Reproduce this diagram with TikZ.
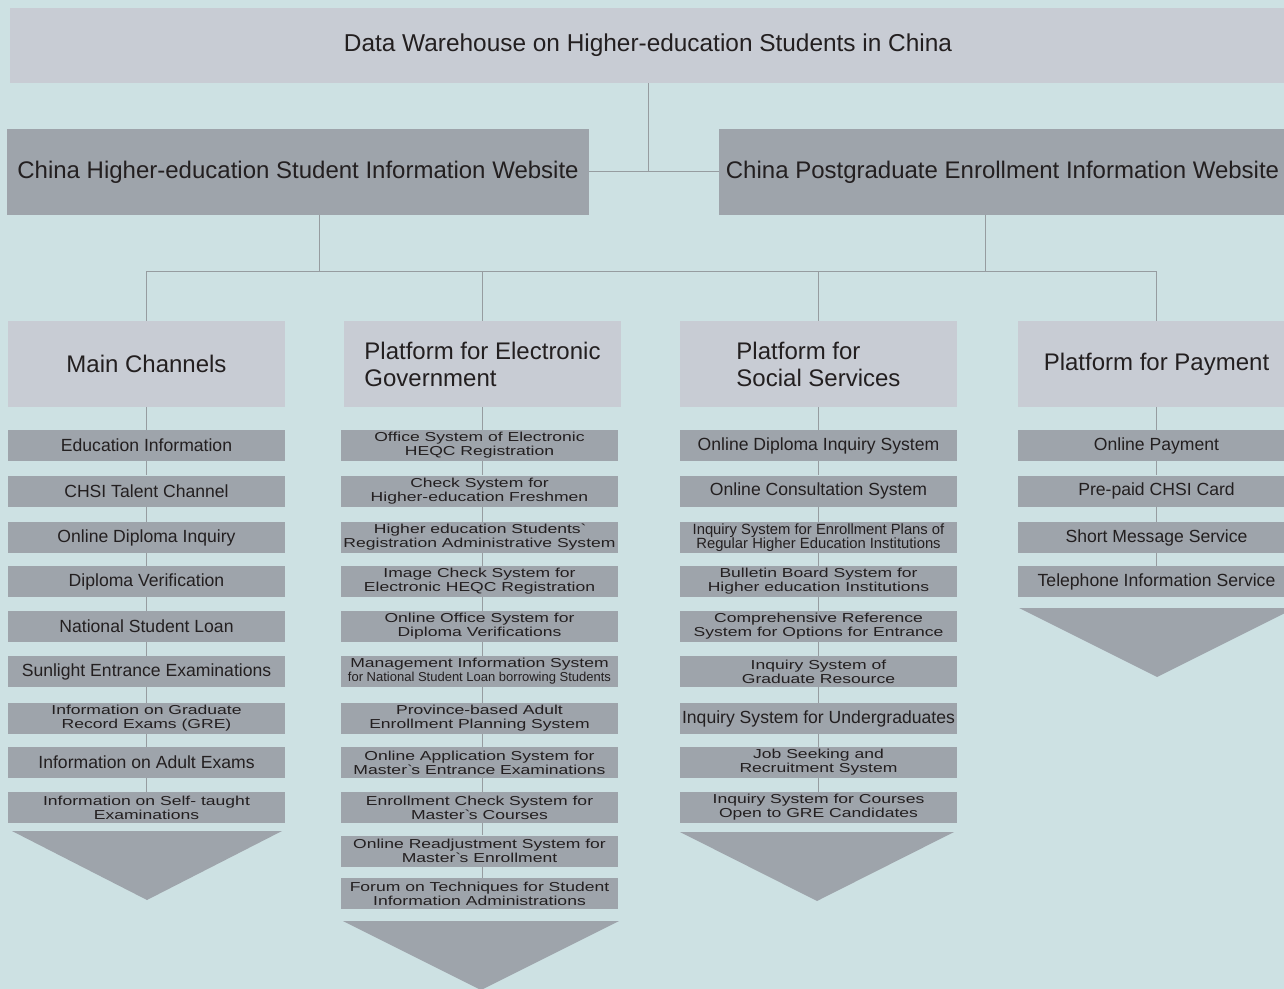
\documentclass[tikz,border=0pt]{standalone}
\usepackage{fontspec}
\setmainfont{Liberation Sans}
\newfontfamily\widefont[FakeStretch=1.35]{Liberation Sans}
\usetikzlibrary{calc}
\definecolor{sky}{RGB}{205,225,227}
\definecolor{pale}{RGB}{200,204,212}
\definecolor{slate}{RGB}{158,164,171}
\definecolor{wire}{RGB}{150,156,160}
\definecolor{ink}{RGB}{35,31,32}
\def\bigtip(#1,#2,#3){\fill[slate] (#1-#3,#2) -- (#1+#3,#2) -- (#1,#2+69) -- cycle;}
\def\smallline{\fontsize{6.5}{7}\selectfont}

\begin{document}
\begin{tikzpicture}[x=0.5pt, y=-0.5pt,
	dwbox/.style={fill=pale, inner sep=0pt, minimum width=638pt, minimum height=37.5pt, text=ink, font=\fontsize{12.2}{13.5}\selectfont},
	sitebox/.style={fill=slate, inner sep=0pt, minimum height=43pt, text=ink, font=\fontsize{12}{13.5}\selectfont},
	headbox/.style={fill=pale, inner sep=0pt, minimum width=138.5pt, minimum height=43pt, text=ink, font=\fontsize{12}{13.5}\selectfont},
	leaf/.style={fill=slate, inner sep=0pt, minimum width=138.5pt, minimum height=15.5pt, text=ink, font=\fontsize{8.8}{10}\selectfont},
	leaftwo/.style={leaf, align=center, font=\widefont\fontsize{6.5}{7}\selectfont},
	leafnarrow/.style={leaf, align=center, font=\fontsize{7.4}{7}\selectfont},
	link/.style={draw=wire, line width=0.5pt}]
	%%%%% START %%%%%
	\useasboundingbox (0,0) rectangle (1284,989);
	\fill[sky] (0,0) rectangle (1284,989);
	
	% top levels
	\node[dwbox] (dw) at (648,45.5) {Data Warehouse on Higher-education Students in China};
	\node[sitebox, minimum width=291pt] (chsi) at (298,172) {China Higher-education Student Information Website};
	\node[sitebox, minimum width=283.5pt] (cpe) at (1002.5,172) {China Postgraduate Enrollment Information Website};
	\draw[link] (chsi.east) -- (cpe.west);
	\draw[link] (dw.south) -- (dw.south |- chsi.east);
	
	% column heads
	\node[headbox] (h1) at (146.5,364) {Main Channels};
	\node[headbox, align=left] (h2) at (482.5,364) {Platform for Electronic\\Government};
	\node[headbox, align=left] (h3) at (818.5,364) {Platform for\\Social Services};
	\node[headbox] (h4) at (1156.5,364) {Platform for Payment};
	
	\coordinate (bus) at (0,272);
	\coordinate (lj) at (319,215);
	\coordinate (rj) at (985,215);
	\draw[link] (lj) -- (lj |- bus);
	\draw[link] (rj) -- (rj |- bus);
	\draw[link] (h1.north) -- (h1.north |- bus) -- (h4.north |- bus) -- (h4.north);
	\draw[link] (h2.north) -- (h2.north |- bus);
	\draw[link] (h3.north) -- (h3.north |- bus);
	
	% main channels
	\node[leaf] (a1) at (146.5,445.5) {Education Information};
	\node[leaf] (a2) at (146.5,491) {CHSI Talent Channel};
	\node[leaf] (a3) at (146.5,537.5) {Online Diploma Inquiry};
	\node[leaf] (a4) at (146.5,581.5) {Diploma Verification};
	\node[leaf] (a5) at (146.5,626.5) {National Student Loan};
	\node[leaf] (a6) at (146.5,671.5) {Sunlight Entrance Examinations};
	\node[leaftwo] (a7) at (146.5,718.5) {Information on Graduate\\Record Exams (GRE)};
	\node[leaf] (a8) at (146.5,762.5) {Information on Adult Exams};
	\node[leaftwo] (a9) at (146.5,807.5) {Information on Self- taught\\Examinations};
	\bigtip(147,831,135)
	
	% electronic government
	\node[leaftwo] (b1) at (479.5,445.5) {Office System of Electronic\\HEQC Registration};
	\node[leaftwo] (b2) at (479.5,491) {Check System for\\Higher-education Freshmen};
	\node[leaftwo] (b3) at (479.5,537.5) {Higher education Students\textasciigrave\\Registration Administrative System};
	\node[leaftwo] (b4) at (479.5,581.5) {Image Check System for\\Electronic HEQC Registration};
	\node[leaftwo] (b5) at (479.5,626.5) {Online Office System for\\Diploma Verifications};
	\node[leaftwo] (b6) at (479.5,671.5) {Management Information System\\{\normalfont\smallline for National Student Loan borrowing Students}};
	\node[leaftwo] (b7) at (479.5,718.5) {Province-based Adult\\Enrollment Planning System};
	\node[leaftwo] (b8) at (479.5,762.5) {Online Application System for\\Master\textasciigrave s Entrance Examinations};
	\node[leaftwo] (b9) at (479.5,807.5) {Enrollment Check System for\\Master\textasciigrave s Courses};
	\node[leaftwo] (b10) at (479.5,851) {Online Readjustment System for\\Master\textasciigrave s Enrollment};
	\node[leaftwo] (b11) at (479.5,893.5) {Forum on Techniques for Student\\Information Administrations};
	\bigtip(481,921,138)
	
	% social services
	\node[leaf] (c1) at (818.5,445.5) {Online Diploma Inquiry System};
	\node[leaf] (c2) at (818.5,491) {Online Consultation System};
	\node[leafnarrow] (c3) at (818.5,537.5) {Inquiry System for Enrollment Plans of\\Regular Higher Education Institutions};
	\node[leaftwo] (c4) at (818.5,581.5) {Bulletin Board System for\\Higher education Institutions};
	\node[leaftwo] (c5) at (818.5,626.5) {Comprehensive Reference\\System for Options for Entrance};
	\node[leaftwo] (c6) at (818.5,671.5) {Inquiry System of\\Graduate Resource};
	\node[leaf] (c7) at (818.5,718.5) {Inquiry System for Undergraduates};
	\node[leaftwo] (c8) at (818.5,762.5) {Job Seeking and\\Recruitment System};
	\node[leaftwo] (c9) at (818.5,807.5) {Inquiry System for Courses\\Open to GRE Candidates};
	\bigtip(817,832,137)
	
	% payment
	\node[leaf] (d1) at (1156.5,445.5) {Online Payment};
	\node[leaf] (d2) at (1156.5,491) {Pre-paid CHSI Card};
	\node[leaf] (d3) at (1156.5,537.5) {Short Message Service};
	\node[leaf] (d4) at (1156.5,581.5) {Telephone Information Service};
	\bigtip(1157,608,138)
	
	% column stems
	\draw[link] (h1.south) -- (a1.north);
	\foreach \i [count=\j from 2] in {1,...,8}
		\draw[link] (a\i.south) -- (a\j.north);
	\draw[link] (h2.south) -- (h2.south |- b1.north);
	\foreach \i [count=\j from 2] in {1,...,10}
		\draw[link] (h2.south |- b\i.south) -- (h2.south |- b\j.north);
	\draw[link] (h3.south) -- (c1.north);
	\foreach \i [count=\j from 2] in {1,...,8}
		\draw[link] (c\i.south) -- (c\j.north);
	\draw[link] (h4.south) -- (d1.north);
	\foreach \i [count=\j from 2] in {1,...,3}
		\draw[link] (d\i.south) -- (d\j.north);
	%%%%% END %%%%%
\end{tikzpicture}
\end{document}
